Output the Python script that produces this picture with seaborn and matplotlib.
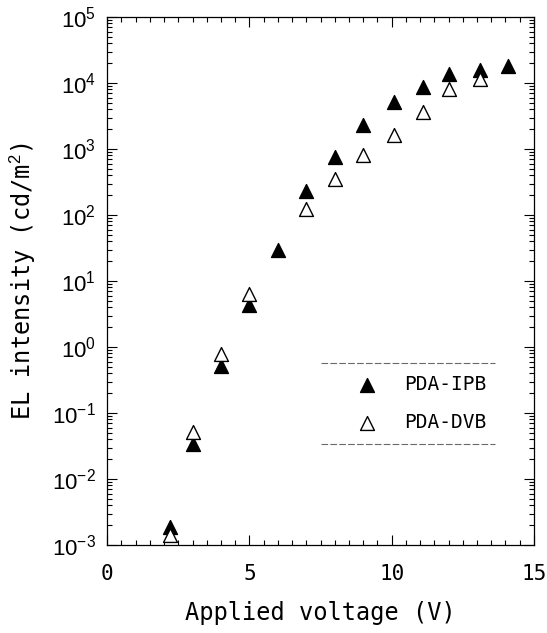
import numpy as np
import pandas as pd
import matplotlib
matplotlib.use('Agg')
import matplotlib.pyplot as plt
from matplotlib.lines import Line2D
from matplotlib.ticker import LogLocator, MultipleLocator, NullFormatter
import seaborn as sns

# values
ipb_voltage = [2.2, 3.0, 4.0, 5.0, 6.0, 7.0, 8.0, 9.0, 10.1, 11.1, 12.0, 13.1, 14.1]
ipb_intensity = [0.0019, 0.034, 0.52, 4.3, 30, 230, 750, 2350, 5200, 8800, 13800, 16000, 18300]
dvb_voltage = [2.2, 3.0, 4.0, 5.0, 7.0, 8.0, 9.0, 10.1, 11.1, 12.0, 13.1]
dvb_intensity = [0.0014, 0.052, 0.79, 6.4, 123, 347, 800, 1660, 3600, 8100, 11500]

ipb = pd.DataFrame({'V': ipb_voltage, 'EL': ipb_intensity})
dvb = pd.DataFrame({'V': dvb_voltage, 'EL': dvb_intensity})

sns.set_style('ticks')
plt.rcParams['font.family'] = ['DejaVu Sans Mono', 'DejaVu Sans']
plt.rcParams['mathtext.fontset'] = 'custom'
plt.rcParams['mathtext.rm'] = 'Liberation Sans'
plt.rcParams['mathtext.it'] = 'Liberation Sans'
for k in ['text.color', 'axes.labelcolor', 'xtick.color', 'ytick.color', 'axes.edgecolor']:
    plt.rcParams[k] = 'black'

fig = plt.figure(figsize=(5.47, 6.33), dpi=100)
ax = fig.add_axes([0.196, 0.139, 0.78, 0.834])

sns.scatterplot(data=ipb, x='V', y='EL', marker='^', s=100, color='black',
                edgecolor='black', linewidth=1.0, ax=ax, label='PDA-IPB')
sns.scatterplot(data=dvb, x='V', y='EL', marker='^', s=100, facecolor='white',
                edgecolor='black', linewidth=1.0, ax=ax, label='PDA-DVB')

ax.set_yscale('log')
ax.set_xlim(0, 15)
ax.set_ylim(1e-3, 1e5)
ax.xaxis.set_major_locator(MultipleLocator(5))
ax.xaxis.set_minor_locator(MultipleLocator(0.5))
ax.yaxis.set_major_locator(LogLocator(base=10, numticks=20))
ax.yaxis.set_minor_locator(LogLocator(base=10, subs=np.arange(2, 10), numticks=20))
ax.yaxis.set_minor_formatter(NullFormatter())

ax.tick_params(which='both', direction='in', top=True, right=True, width=0.8)
ax.tick_params(which='major', length=7, labelsize=15, pad=8)
ax.tick_params(axis='x', which='major', pad=14)
ax.tick_params(axis='y', which='major', labelsize=16, labelfontfamily='Liberation Sans')
ax.tick_params(which='minor', length=3.5)
for sp in ax.spines.values():
    sp.set_linewidth(0.9)

ax.set_xlabel('Applied voltage (V)', fontsize=17, labelpad=12)
ax.set_ylabel('EL intensity (cd/m$^2$)', fontsize=17, labelpad=10)

leg = ax.legend(loc='center left', bbox_to_anchor=(0.54, 0.268), frameon=False,
                fontsize=14, handletextpad=0.9, labelspacing=1.0, markerscale=1.0,
                borderpad=0)
# dashed rules above and below the legend
for yy in (0.345, 0.191):
    ax.add_line(Line2D([0.5, 0.91], [yy, yy], transform=ax.transAxes,
                       color='dimgray', lw=0.8, ls=(0, (6, 2))))

fig.savefig('out.png', dpi=100)
